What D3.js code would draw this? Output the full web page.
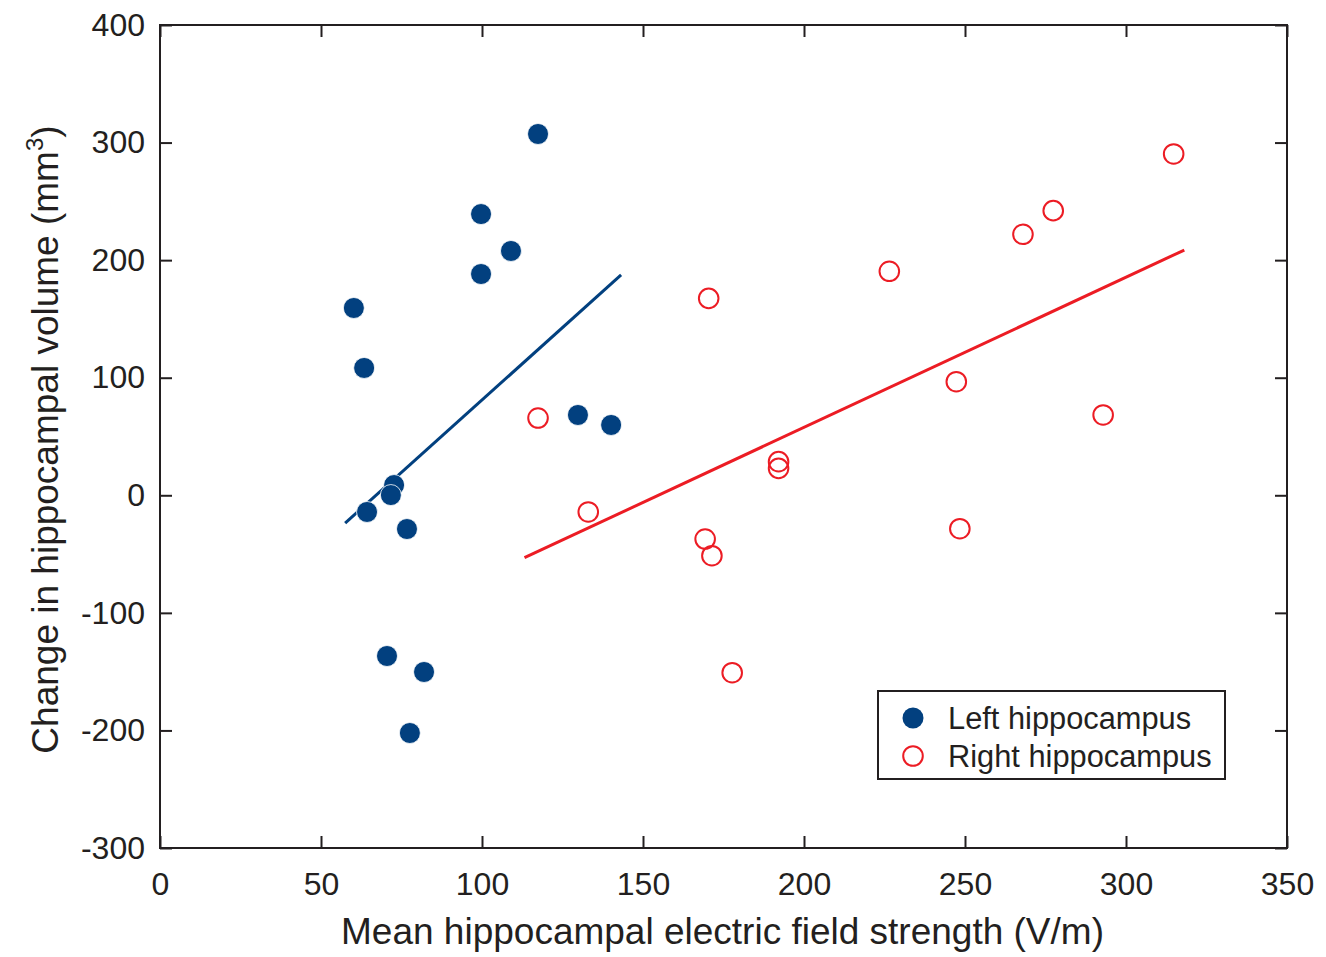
<!DOCTYPE html>
<html><head><meta charset="utf-8">
<script src="https://cdn.jsdelivr.net/npm/d3@7"></script>
<style>body{margin:0;background:#fff}svg{display:block}text{font-family:"Liberation Sans",Arial,sans-serif;fill:#231f20}</style>
</head><body><svg id="c" width="1326" height="957"></svg>
<script>
const leftX = [117.4, 99.7, 109.0, 99.7, 60.2, 63.4, 129.8, 140.1, 72.7, 71.7, 64.3, 76.7, 70.5, 82.0, 77.6];
const leftY = [307.3, 239.2, 207.8, 188.2, 159.3, 108.3, 68.3, 59.8, 8.7, 0.2, -14.2, -28.7, -136.7, -150.3, -202.2];
const rightX = [117.4, 133.0, 170.4, 226.5, 247.3, 192.1, 192.1, 169.3, 171.4, 248.4, 177.7, 314.8, 277.4, 268.0, 292.9];
const rightY = [65.7, -14.2, 167.5, 190.5, 96.6, 28.6, 22.9, -37.2, -51.4, -28.4, -150.9, 290.3, 242.1, 222.0, 68.3];
const leftFitX = [57.5, 143.2];
const leftFitY = [-23.6, 187.4];
const rightFitX = [113.2, 318.1];
const rightFitY = [-53.1, 208.6];
const xTicks = [0, 50, 100, 150, 200, 250, 300, 350];
const yTicks = [-300, -200, -100, 0, 100, 200, 300, 400];
const seriesNames = ["Left hippocampus", "Right hippocampus"];

const blue = "#02407f", red = "#ec1c24", ink = "#231f20";
const fmt = d => String(d);
const svg = d3.select("#c");
const L = 160, R = 1287, T = 25, B = 848;
const x = d3.scaleLinear().domain([0, 350]).range([L, R]);
const y = d3.scaleLinear().domain([-300, 400]).range([B, T]);

// frame
svg.append("rect").attr("x", L).attr("y", T).attr("width", R - L).attr("height", B - T)
  .attr("fill", "none").attr("stroke", ink).attr("stroke-width", 2);

const tk = 12;
const ax = (g, axis) => { g.call(axis); g.select(".domain").remove();
  g.selectAll(".tick line").attr("stroke", ink).attr("stroke-width", 2); };
// bottom
svg.append("g").attr("transform", `translate(0,${B})`).call(g => ax(g,
  d3.axisBottom(x).tickValues(xTicks).tickSize(-tk).tickPadding(24).tickFormat(fmt)))
  .selectAll("text").attr("font-size", 32).style("fill", ink);
// top
svg.append("g").attr("transform", `translate(0,${T})`).call(g => ax(g,
  d3.axisTop(x).tickValues(xTicks).tickSize(-tk).tickFormat("")));
// left
svg.append("g").attr("transform", `translate(${L},0)`).call(g => ax(g,
  d3.axisLeft(y).tickValues(yTicks).tickSize(-tk).tickPadding(15).tickFormat(fmt)))
  .selectAll("text").attr("font-size", 32).style("fill", ink);
// right
svg.append("g").attr("transform", `translate(${R},0)`).call(g => ax(g,
  d3.axisRight(y).tickValues(yTicks).tickSize(-tk).tickFormat("")));
svg.selectAll(".tick text").attr("font-family", "Liberation Sans, Arial, sans-serif");

// fit lines
const line = d3.line().x(d => x(d[0])).y(d => y(d[1]));
svg.append("path").datum(d3.zip(rightFitX, rightFitY)).attr("d", line)
  .attr("stroke", red).attr("stroke-width", 3).attr("fill", "none");
svg.append("path").datum(d3.zip(leftFitX, leftFitY)).attr("d", line)
  .attr("stroke", blue).attr("stroke-width", 3).attr("fill", "none");

// points
svg.append("g").selectAll("circle").data(d3.zip(leftX, leftY)).join("circle")
  .attr("cx", d => x(d[0])).attr("cy", d => y(d[1])).attr("r", 10.5)
  .attr("fill", blue).attr("stroke", "#fff").attr("stroke-width", 0.8);
svg.append("g").selectAll("circle").data(d3.zip(rightX, rightY)).join("circle")
  .attr("cx", d => x(d[0])).attr("cy", d => y(d[1])).attr("r", 9.8)
  .attr("fill", "none").attr("stroke", red).attr("stroke-width", 2);

// legend
const lg = svg.append("g");
lg.append("rect").attr("x", 878).attr("y", 691).attr("width", 347).attr("height", 88)
  .attr("fill", "#fff").attr("stroke", ink).attr("stroke-width", 2);
lg.append("circle").attr("cx", 913).attr("cy", 718).attr("r", 10.5).attr("fill", blue);
lg.append("circle").attr("cx", 913).attr("cy", 756).attr("r", 9.8).attr("fill", "none").attr("stroke", red).attr("stroke-width", 2);
lg.selectAll("text").data(seriesNames).join("text")
  .attr("x", 948).attr("y", (d, i) => 729 + i * 38).attr("font-size", 30.8).text(d => d);

// axis titles
svg.append("text").attr("x", (L + R) / 2 - 1).attr("y", 944).attr("text-anchor", "middle")
  .attr("font-size", 37).text("Mean hippocampal electric field strength (V/m)");
const yl = svg.append("text").attr("transform", `translate(58,${(T + B) / 2 + 3}) rotate(-90)`)
  .attr("text-anchor", "middle").attr("font-size", 37);
yl.append("tspan").text("Change in hippocampal volume (mm");
yl.append("tspan").attr("font-size", 24).attr("dy", -15).text("3");
yl.append("tspan").attr("dy", 15).text(")");
</script></body></html>
